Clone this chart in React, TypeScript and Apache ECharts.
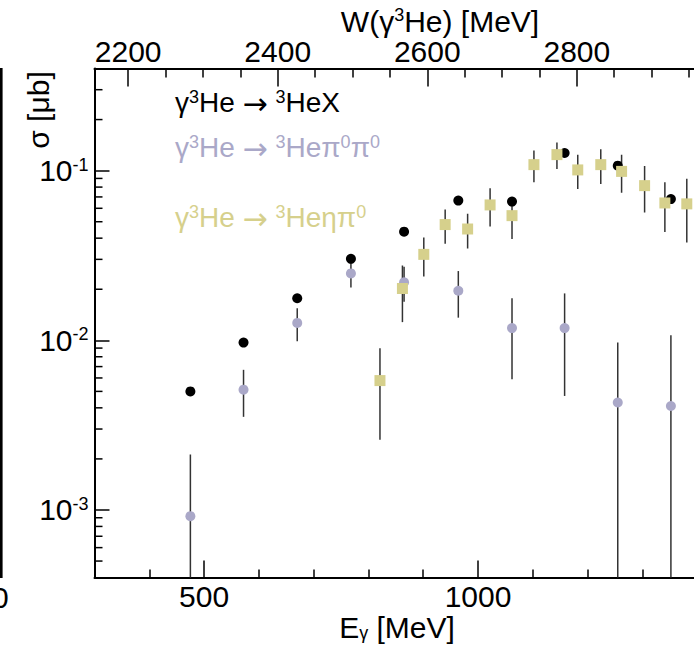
import React, { useEffect, useRef } from "react";
import * as echarts from "echarts";

const FONT = "'Liberation Sans', Arial, Helvetica, sans-serif";
const ARROW_FONT = "'Noto Sans', 'DejaVu Sans', sans-serif";

// Photon beam energy E_gamma [MeV] and cross sections sigma [ub]
const energyHeX = [475, 572, 670, 768, 865, 964, 1062, 1158, 1255, 1352];
const sigmaHeX = [0.005, 0.0097, 0.0177, 0.0302, 0.0437, 0.0666, 0.0657, 0.127, 0.107, 0.068];

const energyPiPi = [475, 572, 670, 768, 865, 964, 1062, 1158, 1255, 1352];
const sigmaPiPi = [0.00092, 0.00512, 0.01266, 0.0248, 0.022, 0.0196, 0.0118, 0.0118, 0.0043, 0.0041];
const errPiPi = [0.0012, 0.00158, 0.0028, 0.0043, 0.0051, 0.006, 0.0059, 0.0071, 0.0054, 0.0066];

const energyEtaPi = [821, 862, 901, 940, 981, 1022, 1062, 1102, 1144, 1182, 1224, 1262, 1304, 1341, 1381];
const sigmaEtaPi = [0.00579, 0.0202, 0.0321, 0.0481, 0.0453, 0.0628, 0.0543, 0.1085, 0.1243, 0.101, 0.1085, 0.099, 0.0816, 0.0645, 0.0637];
const errEtaPi = [0.0032, 0.0074, 0.0083, 0.011, 0.0105, 0.016, 0.0147, 0.023, 0.022, 0.023, 0.025, 0.025, 0.025, 0.021, 0.026];

// Axis ranges and tick values
const E_MIN = 300;
const E_MAX = 1450;
const W_MIN = 2155;
const W_MAX = 2997.6;
const SIGMA_MIN = 4e-4;
const SIGMA_MAX = 0.4;

const eMajorTicks = [500, 1000];
const eLabelValues = [500, 1000];
const eMinorTicks = [400, 600, 700, 800, 900, 1100, 1200, 1300, 1400];
const wMajorTicks = [2200, 2400, 2600, 2800];
const wLabelValues = [2200, 2400, 2600, 2800];
const wMinorTicks = [2250, 2300, 2350, 2450, 2500, 2550, 2650, 2700, 2750, 2850, 2900, 2950];
const sigmaMinorTicks = [
  5e-4, 6e-4, 7e-4, 8e-4, 9e-4,
  2e-3, 3e-3, 4e-3, 5e-3, 6e-3, 7e-3, 8e-3, 9e-3,
  0.02, 0.03, 0.04, 0.05, 0.06, 0.07, 0.08, 0.09,
  0.2, 0.3,
];

const COLOR_HEX = "#000000";
const COLOR_PIPI = "#aaa8c8";
const COLOR_ETAPI = "#d6d08c";
const COLOR_BAR = "#333333";

const errorBarItem = (params: any, api: any) => {
  const x = api.value(0);
  const y = api.value(1);
  const e = api.value(2);
  const lo = Math.max(y - e, 1e-7);
  const top = api.coord([x, y + e]);
  const bottom = api.coord([x, lo]);
  return {
    type: "line",
    shape: { x1: top[0], y1: top[1], x2: bottom[0], y2: bottom[1] },
    style: { stroke: COLOR_BAR, lineWidth: 1.5 },
  };
};

const minorTickItem = (params: any, api: any) => {
  const p = api.coord([api.value(0), api.value(1)]);
  return {
    type: "line",
    shape: { x1: p[0], y1: p[1], x2: p[0] + 8, y2: p[1] },
    style: { stroke: "#000", lineWidth: 1.5 },
  };
};

const plainNumber = (v: number) => String(v);

const axisBase = {
  type: "value",
  splitLine: { show: false },
  minorTick: { show: false },
};

const reactionLabel = (text: string, y: number, color: string) => ({
  type: "text",
  x: 175,
  y,
  style: {
    text,
    fontSize: 28,
    lineHeight: 28,
    fontFamily: FONT,
    fill: color,
    verticalAlign: "middle",
    rich: {
      sup: { fontSize: 18, lineHeight: 18, verticalAlign: "top", fontFamily: FONT, fill: color },
      arr: { fontSize: 30, lineHeight: 28, fontFamily: ARROW_FONT, fill: color },
    },
  },
});

const buildOption = () => ({
  animation: false,
  backgroundColor: "#ffffff",
  grid: {
    left: 94.5,
    top: 68.5,
    right: -30.6,
    bottom: 72.5,
    containLabel: false,
    outerBoundsMode: "none",
  },
  xAxis: [
    {
      ...axisBase,
      position: "bottom",
      min: E_MIN,
      max: E_MAX,
      axisLine: { show: true, onZero: false, lineStyle: { color: "#000", width: 2 } },
      axisTick: { show: true, inside: true, length: 17, customValues: eMajorTicks, lineStyle: { color: "#000", width: 1.5 } },
      axisLabel: { show: true, customValues: eLabelValues, formatter: plainNumber, color: "#000", fontSize: 30, fontFamily: FONT, margin: 4 },
    },
    {
      ...axisBase,
      position: "bottom",
      min: E_MIN,
      max: E_MAX,
      axisLine: { show: false, onZero: false },
      axisTick: { show: true, inside: true, length: 8, customValues: eMinorTicks, lineStyle: { color: "#000", width: 1.5 } },
      axisLabel: { show: false },
    },
    {
      ...axisBase,
      position: "top",
      min: W_MIN,
      max: W_MAX,
      axisLine: { show: true, onZero: false, lineStyle: { color: "#000", width: 2 } },
      axisTick: { show: true, inside: true, length: 18, customValues: wMajorTicks, lineStyle: { color: "#000", width: 1.5 } },
      axisLabel: { show: true, customValues: wLabelValues, formatter: plainNumber, color: "#000", fontSize: 30, fontFamily: FONT, margin: 2 },
    },
    {
      ...axisBase,
      position: "top",
      min: W_MIN,
      max: W_MAX,
      axisLine: { show: false, onZero: false },
      axisTick: { show: true, inside: true, length: 9, customValues: wMinorTicks, lineStyle: { color: "#000", width: 1.5 } },
      axisLabel: { show: false },
    },
  ],
  yAxis: [
    {
      type: "log",
      logBase: 10,
      position: "left",
      min: SIGMA_MIN,
      max: SIGMA_MAX,
      splitLine: { show: false },
      axisLine: { show: true, onZero: false, lineStyle: { color: "#000", width: 2 } },
      axisTick: { show: true, inside: true, length: 15, lineStyle: { color: "#000", width: 1.5 } },
      axisLabel: {
        show: true,
        showMinLabel: false,
        showMaxLabel: false,
        margin: 6,
        color: "#000",
        fontSize: 30,
        fontFamily: FONT,
        lineHeight: 30,
        formatter: (v: number) => `10{sup|${Math.round(Math.log10(v))}}`,
        rich: {
          sup: { fontSize: 18, lineHeight: 12, verticalAlign: "top", fontFamily: FONT, color: "#000" },
        },
      },
    },
  ],
  series: [
    {
      type: "custom",
      name: "bars-pipi",
      xAxisIndex: 0,
      yAxisIndex: 0,
      clip: true,
      silent: true,
      z: 2,
      encode: { x: 0, y: 1 },
      renderItem: errorBarItem,
      data: energyPiPi.map((e, i) => [e, sigmaPiPi[i], errPiPi[i]]),
    },
    {
      type: "custom",
      name: "bars-etapi",
      xAxisIndex: 0,
      yAxisIndex: 0,
      clip: true,
      silent: true,
      z: 2,
      encode: { x: 0, y: 1 },
      renderItem: errorBarItem,
      data: energyEtaPi.map((e, i) => [e, sigmaEtaPi[i], errEtaPi[i]]),
    },
    {
      type: "scatter",
      name: "HeX",
      xAxisIndex: 0,
      yAxisIndex: 0,
      symbol: "circle",
      symbolSize: 10,
      itemStyle: { color: COLOR_HEX, opacity: 1 },
      z: 3,
      data: energyHeX.map((e, i) => [e, sigmaHeX[i]]),
    },
    {
      type: "scatter",
      name: "pipi",
      xAxisIndex: 0,
      yAxisIndex: 0,
      symbol: "circle",
      symbolSize: 10,
      itemStyle: { color: COLOR_PIPI, opacity: 1 },
      z: 4,
      data: energyPiPi.map((e, i) => [e, sigmaPiPi[i]]),
    },
    {
      type: "scatter",
      name: "etapi",
      xAxisIndex: 0,
      yAxisIndex: 0,
      symbol: "rect",
      symbolSize: 11,
      itemStyle: { color: COLOR_ETAPI, opacity: 1 },
      z: 5,
      data: energyEtaPi.map((e, i) => [e, sigmaEtaPi[i]]),
    },
    {
      type: "custom",
      name: "sigma-minor-ticks",
      xAxisIndex: 0,
      yAxisIndex: 0,
      clip: false,
      silent: true,
      z: 6,
      encode: { x: 0, y: 1 },
      renderItem: minorTickItem,
      data: sigmaMinorTicks.map((v) => [E_MIN, v]),
    },
  ],
  graphic: [
    // frame edge and label of the neighbouring panel
    {
      type: "line",
      shape: { x1: 1.3, y1: 68, x2: 1.3, y2: 578 },
      style: { stroke: "#000", lineWidth: 2.6 },
    },
    {
      type: "text",
      x: 8.8,
      y: 597,
      style: { text: "0", fontSize: 30, fontFamily: FONT, fill: "#000", align: "right", verticalAlign: "middle" },
    },
    // axis titles
    {
      type: "text",
      x: 440,
      y: 21,
      style: {
        text: "W(γ{sup|3}He) [MeV]",
        fontSize: 30,
        lineHeight: 30,
        fontFamily: FONT,
        fill: "#000",
        align: "center",
        verticalAlign: "middle",
        rich: { sup: { fontSize: 18, lineHeight: 16, verticalAlign: "top", fontFamily: FONT, fill: "#000" } },
      },
    },
    {
      type: "text",
      x: 397,
      y: 627,
      style: {
        text: "E{sub|γ} [MeV]",
        fontSize: 30,
        lineHeight: 30,
        fontFamily: FONT,
        fill: "#000",
        align: "center",
        verticalAlign: "middle",
        rich: { sub: { fontSize: 18, lineHeight: 14, verticalAlign: "bottom", fontFamily: FONT, fill: "#000" } },
      },
    },
    {
      type: "text",
      x: 38,
      y: 110,
      rotation: Math.PI / 2,
      style: {
        text: "σ [μb]",
        fontSize: 30,
        fontFamily: FONT,
        fill: "#000",
        align: "center",
        verticalAlign: "middle",
      },
    },
    // reaction labels
    reactionLabel("γ{sup|3}He {arr|→} {sup|3}HeX", 102, COLOR_HEX),
    reactionLabel("γ{sup|3}He {arr|→} {sup|3}Heπ{sup|0}π{sup|0}", 147, COLOR_PIPI),
    reactionLabel("γ{sup|3}He {arr|→} {sup|3}Heηπ{sup|0}", 217, COLOR_ETAPI),
  ],
});

export default function App() {
  const ref = useRef<HTMLDivElement>(null);
  useEffect(() => {
    if (!ref.current) return;
    const chart = echarts.init(ref.current, null, { renderer: "svg" });
    chart.setOption(buildOption() as any);
    return () => chart.dispose();
  }, []);
  return (
    <div
      ref={ref}
      style={{ position: "fixed", left: 0, top: 0, width: 694, height: 650, background: "#fff" }}
    />
  );
}
